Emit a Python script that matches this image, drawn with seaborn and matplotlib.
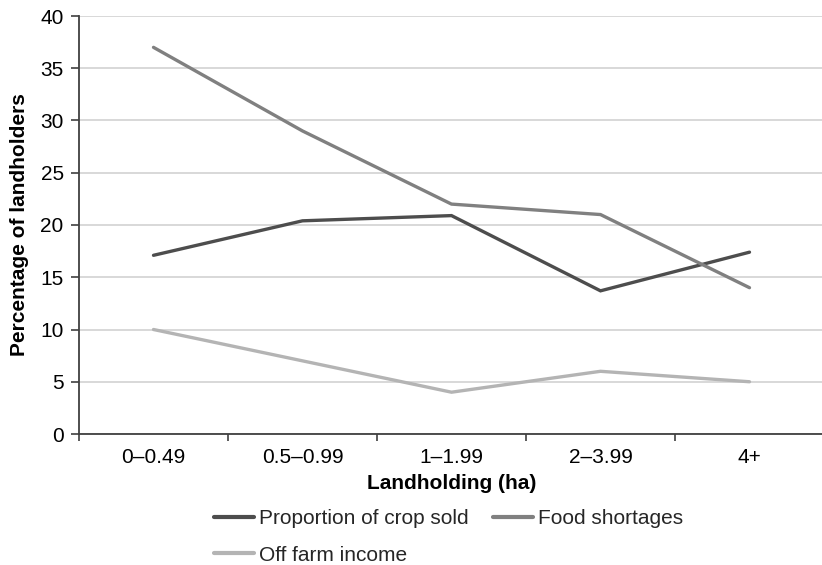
import matplotlib
matplotlib.use("Agg")
import matplotlib.pyplot as plt
import seaborn as sns
import pandas as pd
from matplotlib.lines import Line2D
from matplotlib.ticker import FixedLocator, NullFormatter

# Landholding size classes and the share of landholders (%) in each
categories = ["0\u20130.49", "0.5\u20130.99", "1\u20131.99", "2\u20133.99", "4+"]
crop_sold = [17.1, 20.4, 20.9, 13.7, 17.4]
food_shortages = [37, 29, 22, 21, 14]
off_farm_income = [10, 7, 4, 6, 5]

series_names = ["Proportion of crop sold", "Food shortages", "Off farm income"]
series_values = [crop_sold, food_shortages, off_farm_income]
series_colors = ["#4d4d4d", "#808080", "#b4b4b4"]

rows = []
for name, vals in zip(series_names, series_values):
    for cat, v in zip(categories, vals):
        rows.append({"Landholding": cat, "Series": name, "Value": v})
df = pd.DataFrame(rows)

sns.set_theme(style="white")
plt.rcParams["font.family"] = ["Liberation Sans", "DejaVu Sans"]

fig = plt.figure(figsize=(8.22, 5.65), dpi=100)
ax = fig.add_axes([79 / 822, 1 - 434 / 565, 745 / 822, 418 / 565])

sns.lineplot(
    data=df, x="Landholding", y="Value", hue="Series",
    hue_order=series_names, palette=dict(zip(series_names, series_colors)),
    linewidth=2.4, sort=False, ax=ax, legend=False,
)
for line in ax.lines:
    line.set_solid_capstyle("round")
    line.set_solid_joinstyle("miter")

ax.set_xlim(-0.5, len(categories) - 0.5)
ax.set_ylim(0, 40)
ax.set_yticks(range(0, 41, 5))

# category labels sit between tick marks placed at the class boundaries
ax.set_xticks(range(len(categories)))
ax.set_xticklabels(categories)
ax.xaxis.set_minor_locator(FixedLocator([i - 0.5 for i in range(len(categories) + 1)]))
ax.xaxis.set_minor_formatter(NullFormatter())
ax.tick_params(axis="x", which="major", length=0, pad=10, labelsize=15, colors="#000000")
ax.tick_params(axis="x", which="minor", length=5, width=1.2, color="#404040", direction="out", bottom=True)
ax.tick_params(axis="y", which="major", length=6, width=1.2, color="#404040", direction="out",
               left=True, pad=5, labelsize=15, labelcolor="#000000")

ax.yaxis.grid(True, color="#d2d2d2", linewidth=1.2)
ax.xaxis.grid(False)
ax.set_axisbelow(True)

for side in ["top", "right"]:
    ax.spines[side].set_visible(False)
for side in ["left", "bottom"]:
    ax.spines[side].set_color("#404040")
    ax.spines[side].set_linewidth(1.3)

ax.set_xlabel("Landholding (ha)", fontsize=15, fontweight="bold", labelpad=5, color="#000000")
ax.set_ylabel("Percentage of landholders", fontsize=15, fontweight="bold", labelpad=8, color="#000000")

# legend laid out row-wise: two entries on the first row, one on the second
handles = {n: Line2D([], [], color=c, linewidth=3) for n, c in zip(series_names, series_colors)}
order = [series_names[0], series_names[2], series_names[1]]
fig.legend(
    [handles[n] for n in order], order,
    ncol=2, loc="upper left", bbox_to_anchor=(214 / 822, 1 - 509 / 565),
    frameon=False, fontsize=15, handlelength=1.9, handletextpad=0.25,
    columnspacing=1.2, labelspacing=0.85, borderpad=0, borderaxespad=0,
)

fig.savefig("out.png", dpi=100)
